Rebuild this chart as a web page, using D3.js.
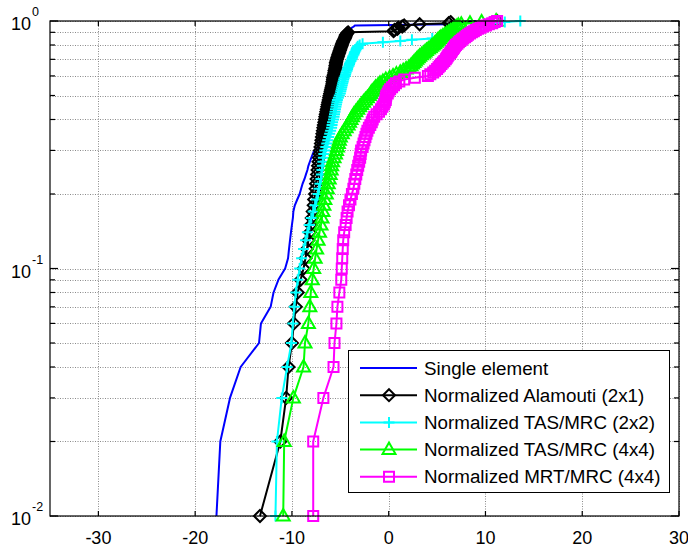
<!DOCTYPE html>
<html><head><meta charset="utf-8">
<script src="https://cdn.jsdelivr.net/npm/d3@7"></script>
<style>body{margin:0;background:#fff}svg{display:block}text{font-family:"Liberation Sans",Arial,sans-serif}</style>
</head><body><svg id="c" width="688" height="548"></svg>
<script>
const probabilities = [0.01,0.02,0.03,0.04,0.05,0.06,0.07,0.08,0.09,0.10,
0.11,0.12,0.13,0.14,0.15,0.16,0.17,0.18,0.19,0.20,
0.21,0.22,0.23,0.24,0.25,0.26,0.27,0.28,0.29,0.30,
0.31,0.32,0.33,0.34,0.35,0.36,0.37,0.38,0.39,0.40,
0.41,0.42,0.43,0.44,0.45,0.46,0.47,0.48,0.49,0.50,
0.51,0.52,0.53,0.54,0.55,0.56,0.57,0.58,0.59,0.60,
0.61,0.62,0.63,0.64,0.65,0.66,0.67,0.68,0.69,0.70,
0.71,0.72,0.73,0.74,0.75,0.76,0.77,0.78,0.79,0.80,
0.81,0.82,0.83,0.84,0.85,0.86,0.87,0.88,0.89,0.90,
0.91,0.92,0.93,0.94,0.95,0.96,0.97,0.98,0.99,1.00];

const singleElement = [-17.8,-17.4,-16.4,-15.3,-13.4,-13.2,-12.2,-11.9,-11.4,-10.7,
-10.4,-10.3,-10.2,-10.1,-10.0,-9.9,-9.85,-9.7,-9.45,-9.2,
-9.05,-8.9,-8.7,-8.55,-8.4,-8.3,-8.15,-8.0,-7.85,-7.7,
-7.3,-7.2,-7.15,-7.1,-7.05,-7.0,-6.95,-6.9,-6.85,-6.8,
-6.75,-6.7,-6.65,-6.6,-6.55,-6.5,-6.45,-6.4,-6.35,-6.3,
-6.25,-6.2,-6.15,-6.1,-6.05,-6.0,-6.0,-5.95,-5.95,-5.9,
-5.85,-5.8,-5.8,-5.75,-5.7,-5.7,-5.65,-5.65,-5.6,-5.55,
-5.5,-5.45,-5.4,-5.35,-5.3,-5.25,-5.2,-5.15,-5.1,-5.05,
-5.0,-4.95,-4.9,-4.8,-4.75,-4.7,-4.65,-4.6,-4.5,-4.4,
-4.2,-4.0,-3.9,-3.8,-3.6,-3.5,6.3,6.8,7.5,9.0];

const alamouti = [-13.3,-11.2,-10.6,-10.35,-10.0,-9.8,-9.6,-9.4,-9.1,-8.8,
-8.6,-8.45,-8.3,-8.15,-8.05,-7.95,-7.85,-7.75,-7.7,-7.6,
-7.55,-7.5,-7.45,-7.4,-7.35,-7.3,-7.25,-7.2,-7.15,-7.1,
-7.05,-7.0,-6.95,-6.9,-6.85,-6.8,-6.75,-6.7,-6.65,-6.6,
-6.55,-6.5,-6.45,-6.4,-6.35,-6.3,-6.25,-6.2,-6.15,-6.1,
-6.05,-6.0,-5.95,-5.9,-5.85,-5.8,-5.8,-5.75,-5.75,-5.7,
-5.65,-5.6,-5.6,-5.55,-5.5,-5.5,-5.45,-5.45,-5.4,-5.35,
-5.3,-5.25,-5.2,-5.15,-5.1,-5.05,-5.0,-4.95,-4.9,-4.85,
-4.8,-4.75,-4.7,-4.6,-4.55,-4.5,-4.45,-4.4,-4.3,-4.2,
0.5,0.6,0.9,1.0,1.4,1.6,3.2,6.2,6.4,11.2];

const tasMrc2x2 = [-11.7,-11.55,-11.05,-10.5,-10.05,-9.9,-9.75,-9.6,-9.4,-9.2,
-9.0,-8.8,-8.6,-8.4,-8.2,-8.0,-7.8,-7.6,-7.45,-7.3,
-7.2,-7.1,-7.0,-6.95,-6.9,-6.85,-6.8,-6.75,-6.7,-6.6,
-6.5,-6.4,-6.3,-6.2,-6.1,-6.0,-5.9,-5.85,-5.8,-5.7,
-5.65,-5.6,-5.55,-5.5,-5.45,-5.4,-5.35,-5.3,-5.2,-5.1,
-5.0,-4.95,-4.9,-4.85,-4.8,-4.75,-4.7,-4.65,-4.6,-4.5,
-4.45,-4.4,-4.3,-4.25,-4.2,-4.1,-4.05,-4.0,-3.9,-3.8,
-3.75,-3.7,-3.6,-3.55,-3.5,-3.4,-3.35,-3.3,-3.2,-3.0,
-2.7,-0.6,1.2,2.4,4.5,5.6,6.4,7.0,7.5,7.9,
8.3,8.6,8.9,9.2,9.5,9.8,10.2,10.8,12.0,13.6];

const tasMrc4x4 = [-10.9,-10.8,-9.85,-8.8,-8.65,-8.3,-8.15,-8.05,-7.9,-7.75,
-7.6,-7.45,-7.3,-7.15,-7.0,-6.9,-6.8,-6.7,-6.6,-6.45,
-6.35,-6.25,-6.15,-6.05,-5.95,-5.9,-5.8,-5.65,-5.5,-5.4,
-5.3,-5.2,-5.1,-5.0,-4.8,-4.6,-4.4,-4.2,-4.05,-3.9,
-3.75,-3.6,-3.4,-3.2,-3.0,-2.8,-2.6,-2.4,-2.2,-2.0,
-1.85,-1.7,-1.5,-1.35,-1.1,-0.9,-0.6,-0.3,0.1,0.45,
0.8,1.2,1.5,1.8,2.1,2.3,2.45,2.6,2.75,2.9,
3.05,3.2,3.4,3.6,3.75,3.9,4.1,4.3,4.45,4.6,
4.75,4.9,5.0,5.1,5.25,5.4,5.6,5.8,6.0,6.2,
6.4,6.6,6.75,6.9,7.05,7.2,7.5,8.4,9.6,11.1];

const mrtMrc4x4 = [-7.8,-7.8,-6.75,-5.7,-5.6,-5.4,-5.3,-5.1,-4.9,-4.85,
-4.8,-4.75,-4.7,-4.6,-4.45,-4.35,-4.25,-4.1,-3.95,-3.8,
-3.65,-3.55,-3.45,-3.35,-3.25,-3.15,-3.05,-2.95,-2.9,-2.85,
-2.7,-2.6,-2.5,-2.4,-2.3,-2.2,-2.05,-1.9,-1.75,-1.65,
-1.5,-1.25,-1.0,-0.8,-0.65,-0.5,-0.4,-0.3,-0.3,-0.25,
-0.1,0.0,0.15,0.35,0.55,0.75,1.1,1.6,2.7,4.05,
4.3,4.6,4.8,5.0,5.15,5.3,5.45,5.6,5.75,5.9,
6.0,6.1,6.2,6.35,6.45,6.55,6.65,6.75,6.85,6.95,
7.1,7.25,7.4,7.55,7.7,7.9,8.05,8.2,8.4,8.6,
8.8,9.0,9.25,9.5,9.75,10.05,10.35,10.7,10.95,11.2];

const seriesNames = ["Single element","Normalized Alamouti (2x1)","Normalized TAS/MRC (2x2)","Normalized TAS/MRC (4x4)","Normalized MRT/MRC (4x4)"];
const seriesValues = [singleElement, alamouti, tasMrc2x2, tasMrc4x4, mrtMrc4x4];
const seriesColors = ["#0000ff","#000000","#00ffff","#00ff00","#ff00ff"];
const seriesMarkers = ["none","diamond","plus","triangle","square"];
const xTicks = [-30,-20,-10,0,10,20,30];
const yDecades = [0,-1,-2];

const svg = d3.select("#c");
const L = 50, R = 679, T = 21, B = 516;
const x = d3.scaleLinear().domain([-35,30]).range([L,R]);
const y = d3.scaleLog().domain([0.01,1]).range([B,T]);

// grid
const grid = svg.append("g").attr("stroke","#8a8a8a").attr("stroke-width",1).attr("stroke-dasharray","1,1.5");
grid.selectAll("line.h").data(y.ticks()).join("line")
  .attr("x1",L).attr("x2",R).attr("y1",d=>Math.round(y(d))+0.5).attr("y2",d=>Math.round(y(d))+0.5);
grid.selectAll("line.v").data(xTicks).join("line")
  .attr("y1",T).attr("y2",B).attr("x1",d=>Math.round(x(d))+0.5).attr("x2",d=>Math.round(x(d))+0.5);

function markerPath(type){
  switch(type){
    case "diamond": return "M0,-6L6,0L0,6L-6,0Z";
    case "plus": return "M-5.5,0H5.5M0,-5.5V5.5";
    case "triangle": return "M0,-7L6.5,4.5L-6.5,4.5Z";
    case "square": return "M-5,-5H5V5H-5Z";
  }
  return null;
}

const line = d3.line().x(d=>x(d[0])).y(d=>y(d[1]));
seriesValues.forEach((vals,i)=>{
  const pts = vals.map((v,k)=>[v, probabilities[k]]);
  const g = svg.append("g");
  g.append("path").attr("d",line(pts)).attr("fill","none").attr("stroke",seriesColors[i]).attr("stroke-width",2).attr("stroke-linejoin","round");
  const mp = markerPath(seriesMarkers[i]);
  if(mp){
    g.selectAll("path.m").data(pts).join("path").attr("class","m")
      .attr("d",mp).attr("transform",d=>`translate(${x(d[0])},${y(d[1])})`)
      .attr("fill","none").attr("stroke",seriesColors[i]).attr("stroke-width",2);
  }
});

// axes box
const ax = svg.append("g").attr("stroke","#000").attr("stroke-width",1.2).attr("fill","none");
ax.append("rect").attr("x",L).attr("y",T).attr("width",R-L).attr("height",B-T);
ax.selectAll("line.xb").data(xTicks).join("line").attr("x1",d=>x(d)).attr("x2",d=>x(d)).attr("y1",B).attr("y2",B-5);
ax.selectAll("line.xt").data(xTicks).join("line").attr("x1",d=>x(d)).attr("x2",d=>x(d)).attr("y1",T).attr("y2",T+5);
const yt = y.ticks();
const isMajor = d => yDecades.includes(Math.round(Math.log10(d)*1000)/1000);
ax.selectAll("line.yl").data(yt).join("line").attr("x1",L).attr("x2",d=>L+(isMajor(d)?8:5)).attr("y1",d=>y(d)).attr("y2",d=>y(d));
ax.selectAll("line.yr").data(yt).join("line").attr("x1",R).attr("x2",d=>R-(isMajor(d)?8:5)).attr("y1",d=>y(d)).attr("y2",d=>y(d));

// x labels
svg.selectAll("text.xl").data(xTicks).join("text").attr("class","xl")
  .attr("x",d=>x(d)).attr("y",544).attr("text-anchor","middle").attr("font-size",18).attr("fill","#000")
  .text(d=>String(d));

// y labels
const yl = svg.selectAll("g.yl").data(yDecades).join("g").attr("class","yl")
  .attr("transform",d=>`translate(31,${y(Math.pow(10,d))})`);
yl.append("text").attr("x",0).attr("y",9).attr("text-anchor","end").attr("font-size",18).text("10");
yl.append("text").attr("x",1).attr("y",-5).attr("text-anchor","start").attr("font-size",12.5).text(d=>String(d));

// legend
const lg = svg.append("g");
lg.append("rect").attr("x",348.5).attr("y",350.5).attr("width",321).attr("height",142).attr("fill","#fff").attr("stroke","#000").attr("stroke-width",1);
seriesNames.forEach((n,i)=>{
  const cy = 368 + i*27.2;
  lg.append("line").attr("x1",360).attr("x2",417).attr("y1",cy).attr("y2",cy).attr("stroke",seriesColors[i]).attr("stroke-width",2);
  const mp = markerPath(seriesMarkers[i]);
  if(mp) lg.append("path").attr("d",mp).attr("transform",`translate(389,${cy})`).attr("fill","none").attr("stroke",seriesColors[i]).attr("stroke-width",2);
  lg.append("text").attr("x",424).attr("y",cy+6.5).attr("font-size",18.8).attr("fill","#000").text(n);
});
</script></body></html>
